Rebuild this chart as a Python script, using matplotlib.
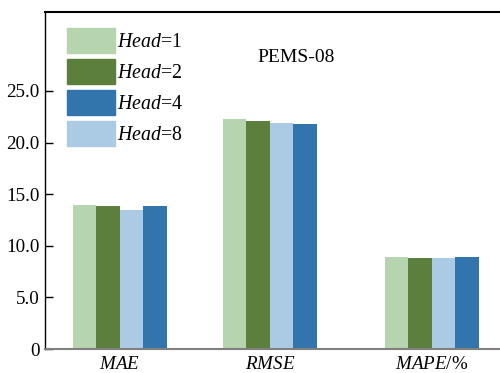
import matplotlib
matplotlib.use("Agg")
import matplotlib.pyplot as plt
from matplotlib.patches import Patch
import numpy as np

plt.rcParams['font.family'] = ['Liberation Serif', 'DejaVu Serif']
plt.rcParams['mathtext.fontset'] = 'custom'
plt.rcParams['mathtext.it'] = 'Liberation Serif:italic'
plt.rcParams['mathtext.rm'] = 'Liberation Serif'

metrics = [r'$\mathit{MAE}$', r'$\mathit{RMSE}$', r'$\mathit{MAPE}$/%']
head1 = [13.95, 22.3, 8.92]
head2 = [13.87, 22.1, 8.86]
head8 = [13.45, 21.9, 8.80]
head4 = [13.87, 21.8, 8.92]
yticks = [0, 5, 10, 15, 20, 25]
ytick_labels = ['0', '5.0', '10.0', '15.0', '20.0', '25.0']

c1 = '#b6d5af'
c2 = '#5c7f3e'
c4 = '#3274ac'
c8 = '#abcbe4'

fig = plt.figure(figsize=(5.0, 3.73), dpi=100)
ax = fig.add_axes([0.09, 0.0643, 0.91, 0.9035])

x = np.array([0.0, 1.0, 2.08])
w = 0.157
ax.bar(x - 1.5 * w, head1, w, color=c1, edgecolor='none')
ax.bar(x - 0.5 * w, head2, w, color=c2, edgecolor='none')
ax.bar(x + 0.5 * w, head8, w, color=c8, edgecolor='none')
ax.bar(x + 1.5 * w, head4, w, color=c4, edgecolor='none')

ax.set_xlim(-0.498, 2.535)
ax.set_ylim(0, 32.65)
ax.set_yticks(yticks)
ax.set_yticklabels(ytick_labels)
ax.set_xticks(x)
ax.set_xticklabels(metrics)
ax.tick_params(axis='y', direction='in', length=5.5, width=1.0, labelsize=13.7, pad=4)
ax.tick_params(axis='x', length=0, labelsize=13.7, pad=5)

ax.spines['right'].set_visible(False)
ax.spines['top'].set_linewidth(1.5)
ax.spines['left'].set_linewidth(1.0)
ax.spines['bottom'].set_color('#808080')
ax.spines['bottom'].set_linewidth(1.5)

handles = [Patch(color=c1), Patch(color=c2), Patch(color=c4), Patch(color=c8)]
labels = [r'$\mathit{Head}$=1', r'$\mathit{Head}$=2', r'$\mathit{Head}$=4', r'$\mathit{Head}$=8']
fig.legend(handles, labels, loc='upper left', bbox_to_anchor=(67 / 500, 1 - 27.5 / 373),
           frameon=False, fontsize=14.3, handlelength=2.4, handleheight=1.6,
           labelspacing=0.28, handletextpad=0.14, borderpad=0, borderaxespad=0)

fig.text(296 / 500, 1 - 57 / 373, 'PEMS-08', ha='center', va='center', fontsize=14)

fig.savefig('out.png', dpi=100)
